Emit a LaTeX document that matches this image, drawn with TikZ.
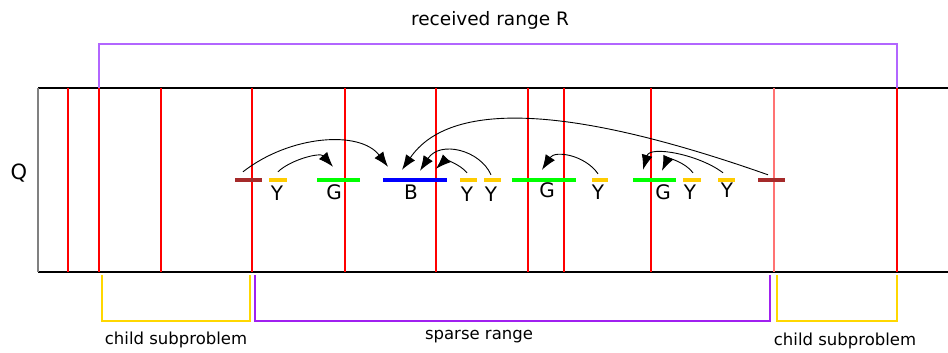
\documentclass[tikz,border=0pt]{standalone}
\usepackage{fontspec}
\setmainfont{DejaVu Sans}
\usetikzlibrary{arrows.meta}
\definecolor{pivotred}{RGB}{165,42,42}
\definecolor{keyyellow}{RGB}{255,204,0}
\definecolor{childyellow}{RGB}{255,215,0}
\definecolor{rangepurple}{RGB}{178,102,255}
\definecolor{sparsepurple}{RGB}{160,32,240}

\begin{document}
\begin{tikzpicture}[x=1pt,y=-1pt,
	seg/.style={inner sep=0pt, minimum height=4pt},
	key/.style={font=\fontsize{20}{24}\selectfont},
	jump/.style={-{Latex[length=15pt,width=11pt]}, line width=0.9pt},
	cut/.style={red, line width=1.1pt}]
	\useasboundingbox (0,0) rectangle (948,353);

	% the array Q and its cuts
	\draw[line width=1.3pt] (948,88) -- (38,88);
	\draw[line width=1.3pt] (38,272) -- (948,272);
	\draw[gray, line width=2pt] (38,88) -- (38,272);
	\foreach \x in {68,99,161,252,345,436,528,564,651,897}
		\draw[cut] (\x,88) -- (\x,272);
	\draw[cut, red!55] (774,88) -- (774,272);
	\node[font=\fontsize{21}{24}\selectfont] (q) at (19,173) {Q};

	% received range
	\draw[rangepurple, line width=1.3pt] (99,88) -- (99,44) -- (897,44) -- (897,88);
	\node[font=\fontsize{18.5}{22}\selectfont] (recv) at (490,20) {received range R};

	% keys
	\node[seg, fill=pivotred, minimum width=27pt] (pl) at (248.5,180) {};
	\node[seg, fill=keyyellow, minimum width=18pt] (y1) at (278,180) {};
	\node[seg, fill=green, minimum width=43pt] (g1) at (338.5,180) {};
	\node[seg, fill=blue, minimum width=64pt] (b) at (415,180) {};
	\node[seg, fill=keyyellow, minimum width=17pt] (y2) at (468.5,180) {};
	\node[seg, fill=keyyellow, minimum width=17pt] (y3) at (492.5,180) {};
	\node[seg, fill=green, minimum width=64pt] (g2) at (544,180) {};
	\node[seg, fill=keyyellow, minimum width=16pt] (y4) at (600,180) {};
	\node[seg, fill=green, minimum width=43pt] (g3) at (654.5,180) {};
	\node[seg, fill=keyyellow, minimum width=18pt] (y5) at (692,180) {};
	\node[seg, fill=keyyellow, minimum width=17pt] (y6) at (726.5,180) {};
	\node[seg, fill=pivotred, minimum width=27pt] (pr) at (771.5,180) {};

	\node[key] (ly1) at (277,193) {Y};
	\node[key] (lg1) at (334,192) {G};
	\node[key] (lb) at (411,192) {B};
	\node[key] (ly2) at (467,194) {Y};
	\node[key] (ly3) at (491,194) {Y};
	\node[key] (lg2) at (547,190) {G};
	\node[key] (ly4) at (598,192) {Y};
	\node[key] (lg3) at (663,192) {G};
	\node[key] (ly5) at (690,192) {Y};
	\node[key] (ly6) at (727,190) {Y};

	% jumps
	\draw[jump] ([xshift=-5.5pt,yshift=6pt]pl.north) .. controls (290,135) and (360,130) .. ([xshift=-27pt,yshift=11pt]b.north);
	\draw[jump] ([yshift=6pt]y1.north) .. controls (290,160) and (320,152) .. ([xshift=-5.5pt,yshift=11pt]g1.north);
	\draw[jump] ([xshift=-3.5pt,yshift=3pt]pr.north) .. controls (570,105) and (450,100) .. ([xshift=-13pt,yshift=8pt]b.north);
	\draw[jump] ([xshift=-1.5pt,yshift=5pt]y2.north) .. controls (460,164) and (445,160) .. ([xshift=21pt,yshift=9pt]b.north);
	\draw[jump] ([xshift=-1.5pt,yshift=3pt]y3.north) .. controls (480,150) and (440,140) .. ([xshift=5pt,yshift=7pt]b.north);
	\draw[jump] ([xshift=-2pt,yshift=4pt]y4.north) .. controls (585,155) and (555,150) .. ([xshift=-2pt,yshift=8pt]g2.north);
	\draw[jump] ([xshift=-3.5pt,yshift=5pt]y6.north) .. controls (700,155) and (650,145) .. ([xshift=-11.5pt,yshift=8pt]g3.north);
	\draw[jump] ([xshift=1pt,yshift=5pt]y5.north) .. controls (685,162) and (668,158) .. ([xshift=7.5pt,yshift=7pt]g3.north);

	% child subproblems and the sparse range
	\draw[childyellow, line width=2pt] (102,275) -- (102,321) -- (250,321) -- (250,275);
	\draw[sparsepurple, line width=2.5pt] (255,275) -- (255,321) -- (770,321) -- (770,275);
	\draw[childyellow, line width=2pt] (777,275) -- (777,321) -- (897,321) -- (897,275);
	\node[font=\fontsize{16.5}{20}\selectfont] (cl) at (176,340) {child subproblem};
	\node[font=\fontsize{16.5}{20}\selectfont] (sp) at (479,337) {sparse range};
	\node[font=\fontsize{16.5}{20}\selectfont] (cr) at (845,341) {child subproblem};
\end{tikzpicture}
\end{document}
